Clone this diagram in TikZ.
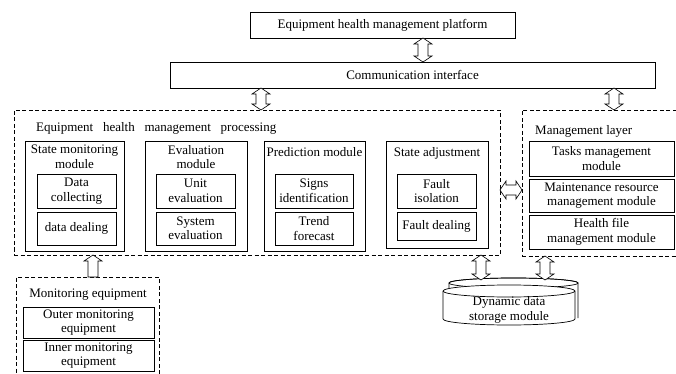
\documentclass[tikz,border=0pt]{standalone}
\usepackage{fontspec}
\setmainfont{Liberation Serif}
\usetikzlibrary{calc}
%% Sizes of the hollow arrows.
\newcommand{\headW}{9pt}   %% Half width of an arrow head.
\newcommand{\headL}{6pt}   %% Length of an arrow head.
\newcommand{\shaftW}{5pt}  %% Half width of an arrow shaft.
%% Hollow double arrow, from #1 (top) down to #2 (bottom).
\newcommand{\dblArrowV}[2]{%%
  \draw[arrowStyle] let \p1=#1, \p2=#2 in
    (\x1,\y1) -- (\x1+\headW,\y1-\headL) -- (\x1+\shaftW,\y1-\headL)
    -- (\x1+\shaftW,\y2+\headL) -- (\x1+\headW,\y2+\headL) -- (\x1,\y2)
    -- (\x1-\headW,\y2+\headL) -- (\x1-\shaftW,\y2+\headL)
    -- (\x1-\shaftW,\y1-\headL) -- (\x1-\headW,\y1-\headL) -- cycle;%%
}
%% Hollow double arrow, from #1 (left) to #2 (right).
\newcommand{\dblArrowH}[2]{%%
  \draw[arrowStyle] let \p1=#1, \p2=#2 in
    (\x1,\y1) -- (\x1+\headL,\y1+\headW) -- (\x1+\headL,\y1+\shaftW)
    -- (\x2-\headL,\y1+\shaftW) -- (\x2-\headL,\y1+\headW) -- (\x2,\y1)
    -- (\x2-\headL,\y1-\headW) -- (\x2-\headL,\y1-\shaftW)
    -- (\x1+\headL,\y1-\shaftW) -- (\x1+\headL,\y1-\headW) -- cycle;%%
}
%% Hollow single arrow, tip at #1 (top), flat base at #2 (bottom).
\newcommand{\upArrow}[2]{%%
  \draw[arrowStyle] let \p1=#1, \p2=#2 in
    (\x1,\y1) -- (\x1+\headW,\y1-\headL) -- (\x1+\shaftW,\y1-\headL)
    -- (\x1+\shaftW,\y2) -- (\x1-\shaftW,\y2) -- (\x1-\shaftW,\y1-\headL)
    -- (\x1-\headW,\y1-\headL) -- cycle;%%
}
\begin{document}
\begin{tikzpicture}[%%
  x=1pt,y=-1pt,%%
  every node/.style={font=\fontsize{13}{14.5}\selectfont},%%
  boxStyle/.style={draw,line width=0.85pt,outer sep=0pt,inner sep=1pt,align=center,anchor=north west},%%
  dashStyle/.style={draw,line width=0.75pt,dash pattern=on 4pt off 2.5pt,outer sep=0pt,anchor=north west},%%
  titleStyle/.style={inner sep=0pt,align=center},%%
  arrowStyle/.style={draw,fill=white,line width=0.65pt}%%
]
\useasboundingbox (0,0) rectangle (676,374);
\clip (0,0) rectangle (676,374);
%%
%% Top of the diagram.
\node[boxStyle,minimum width=265,minimum height=26] (plat) at (250,12)
  {Equipment health management platform};
\node[boxStyle,minimum width=485,minimum height=26] (comm) at (170,62)
  {Communication interface};
%%
%% Equipment health management processing.
\node[dashStyle,minimum width=486,minimum height=145] (proc) at (14,110) {};
\node[titleStyle,anchor=west] (procTitle) at (36,128)
  {Equipment \enspace health \enspace management \enspace processing};
%% State monitoring module.
\node[boxStyle,minimum width=99,minimum height=110] (stateMod) at (25,141) {};
\node[titleStyle,anchor=north] (stateTitle) at ($(stateMod.north)+(0,4)$) {State monitoring\\module};
\node[boxStyle,minimum width=79,minimum height=34] (dataColl) at (37,174) {Data\\collecting};
\node[boxStyle,minimum width=79,minimum height=33] (dataDeal) at (37,212) {data dealing};
%% Evaluation module.
\node[boxStyle,minimum width=102,minimum height=110] (evalMod) at (145,141) {};
\node[titleStyle,anchor=north] (evalTitle) at ($(evalMod.north)+(0,4)$) {Evaluation\\module};
\node[boxStyle,minimum width=79,minimum height=34] (unitEval) at (156,174) {Unit\\evaluation};
\node[boxStyle,minimum width=79,minimum height=33] (sysEval) at (156,212) {System\\evaluation};
%% Prediction module.
\node[boxStyle,minimum width=101,minimum height=110] (predMod) at (264,141) {};
\node[titleStyle,anchor=north] (predTitle) at ($(predMod.north)+(0,6)$) {Prediction module};
\node[boxStyle,minimum width=78,minimum height=34] (signsId) at (275,174) {Signs\\identification};
\node[boxStyle,minimum width=78,minimum height=33] (trendFc) at (275,212) {Trend\\forecast};
%% State adjustment.
\node[boxStyle,minimum width=102,minimum height=107] (adjMod) at (386,141) {};
\node[titleStyle,anchor=north] (adjTitle) at ($(adjMod.north)+(0,6)$) {State adjustment};
\node[boxStyle,minimum width=79,minimum height=34] (faultIso) at (397,174) {Fault\\isolation};
\node[boxStyle,minimum width=79,minimum height=28] (faultDeal) at (397,212) {Fault dealing};
%%
%% Management layer.
\node[dashStyle,minimum width=170,minimum height=146] (mgmt) at (522,110) {};
\node[titleStyle,anchor=west] (mgmtTitle) at (535,131) {Management layer};
\node[boxStyle,minimum width=145,minimum height=35] (tasks) at (529,141) {Tasks management\\module};
\node[boxStyle,minimum width=145,minimum height=33] (maint) at (529,179) {Maintenance resource\\management module};
\node[boxStyle,minimum width=145,minimum height=34] (health) at (529,215) {Health file\\management module};
%%
%% Monitoring equipment.
\node[dashStyle,minimum width=143,minimum height=110] (monEq) at (16,277) {};
\node[titleStyle] (monTitle) at (88,295) {Monitoring equipment};
\node[boxStyle,minimum width=131,minimum height=31] (outerEq) at (23,307) {Outer monitoring\\equipment};
\node[boxStyle,minimum width=131,minimum height=31] (innerEq) at (23,340) {Inner monitoring\\equipment};
%%
%% Dynamic data storage module, two cylinders.
\draw[line width=0.7pt,fill=white] (449,318) -- (449,283)
  arc[start angle=180,end angle=0,x radius=64.5pt,y radius=5pt] -- (578,318);
\draw[line width=0.7pt] (513.5,283) ellipse[x radius=64.5pt,y radius=5pt];
\draw[line width=0.7pt,fill=white] (443,291) -- (443,319)
  arc[start angle=180,end angle=360,x radius=66pt,y radius=6pt] -- (575,291)
  arc[start angle=0,end angle=180,x radius=66pt,y radius=6pt] -- cycle;
\draw[line width=0.7pt] (443,291) arc[start angle=180,end angle=360,x radius=66pt,y radius=6pt];
\coordinate (storeTop) at (513,280);
\node[titleStyle] (store) at (509,310) {Dynamic data\\storage module};
%%
%% The hollow arrows.
\dblArrowV{(plat.south -| 423,0)}{(comm.north -| 423,0)}
\dblArrowV{(comm.south -| 261,0)}{(proc.north -| 261,0)}
\dblArrowV{(comm.south -| 614,0)}{(mgmt.north -| 614,0)}
\dblArrowV{(proc.south -| 481,0)}{(storeTop -| 481,0)}
\dblArrowV{(mgmt.south -| 545,0)}{(storeTop -| 545,0)}
\dblArrowH{(proc.east |- 0,190)}{(mgmt.west |- 0,190)}
\upArrow{(proc.south -| 93,0)}{(monEq.north -| 93,0)}
\end{tikzpicture}
\end{document}
